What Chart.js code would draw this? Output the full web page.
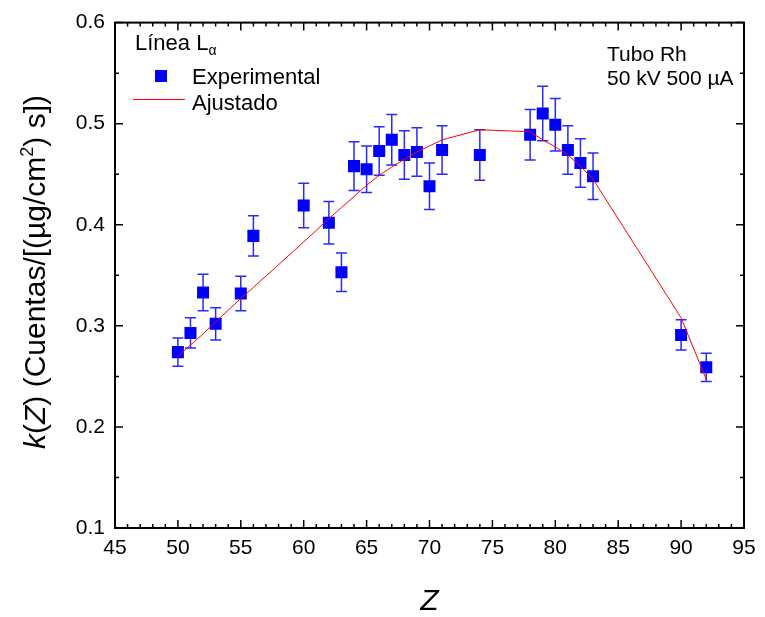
<!DOCTYPE html>
<html>
<head>
<meta charset="utf-8">
<script src="https://cdn.jsdelivr.net/npm/chart.js@4.4.0/dist/chart.umd.min.js"></script>
<style>
  body { margin: 0; background: #fff; }
</style>
</head>
<body>
<canvas id="kz" width="765" height="617"></canvas>
<script>
// numero atomico Z
const zValues = [50, 51, 52, 53, 55, 56, 60, 62, 63, 64, 65, 66, 67, 68, 69, 70, 71, 74, 78, 79, 80, 81, 82, 83, 90, 92];
// k(Z) experimental
const kExp = [0.274, 0.293, 0.333, 0.302, 0.332, 0.389, 0.419, 0.402, 0.353, 0.458, 0.455, 0.473, 0.484, 0.469, 0.472, 0.438, 0.474, 0.469, 0.489, 0.510, 0.499, 0.474, 0.461, 0.448, 0.291, 0.259];
const kErr = [0.014, 0.015, 0.018, 0.016, 0.017, 0.020, 0.022, 0.021, 0.019, 0.024, 0.023, 0.024, 0.025, 0.024, 0.024, 0.023, 0.024, 0.025, 0.025, 0.027, 0.026, 0.024, 0.024, 0.023, 0.015, 0.014];
// curva ajustada
const kFit = [0.270, 0.281, 0.292, 0.304, 0.327, 0.338, 0.383, 0.406, 0.417, 0.428, 0.439, 0.449, 0.457, 0.465, 0.472, 0.478, 0.484, 0.494, 0.492, 0.484, 0.477, 0.469, 0.458, 0.445, 0.308, 0.247];

const FONT = '"Liberation Sans", Arial, sans-serif';
const blue = '#0000ff';

// barras de error, marco, ticks hacia dentro, textos
const decor = {
    id: 'decor',
    beforeDatasetsDraw(chart) {
        const c = chart.ctx, x = chart.scales.x, y = chart.scales.y;
        c.save();
        c.strokeStyle = '#2a2aff';
        c.lineWidth = 1.5;
        zValues.forEach((z, i) => {
            const px = x.getPixelForValue(z);
            const top = y.getPixelForValue(kExp[i] + kErr[i]);
            const bot = y.getPixelForValue(kExp[i] - kErr[i]);
            c.beginPath();
            c.moveTo(px, top); c.lineTo(px, bot);
            c.moveTo(px - 5.5, top); c.lineTo(px + 5.5, top);
            c.moveTo(px - 5.5, bot); c.lineTo(px + 5.5, bot);
            c.stroke();
        });
        c.restore();
    },
    afterDraw(chart) {
        const c = chart.ctx, a = chart.chartArea, x = chart.scales.x, y = chart.scales.y;
        c.save();
        c.strokeStyle = '#000';
        c.lineWidth = 1.5;
        // ticks x (abajo y arriba)
        for (let v = 45; v <= 95; v++) {
            const px = x.getPixelForValue(v);
            const len = v % 5 === 0 ? 8 : 4;
            c.beginPath();
            c.moveTo(px, a.bottom); c.lineTo(px, a.bottom - len);
            c.moveTo(px, a.top); c.lineTo(px, a.top + len);
            c.stroke();
        }
        // ticks y (izq y der)
        for (let k = 0; k <= 10; k++) {
            const v = 0.1 + k * 0.05;
            const py = y.getPixelForValue(v);
            const len = k % 2 === 0 ? 8 : 4;
            c.beginPath();
            c.moveTo(a.left, py); c.lineTo(a.left + len, py);
            c.moveTo(a.right, py); c.lineTo(a.right - len, py);
            c.stroke();
        }
        c.lineWidth = 2;
        c.strokeRect(a.left, a.top, a.right - a.left, a.bottom - a.top);

        c.fillStyle = '#000';
        c.textBaseline = 'alphabetic';
        // titulo x
        c.font = 'italic 30px ' + FONT;
        c.textAlign = 'center';
        c.fillText('Z', (a.left + a.right) / 2, 610);

        // titulo y con cursivas
        const parts = [
            ['k', 'italic 30px ', 0],
            ['(', '30px ', 0],
            ['Z', 'italic 30px ', 0],
            [') (Cuentas/[(\u00b5g/cm', '30px ', 0],
            ['2', '18px ', -12],
            [') s])', '30px ', 0]
        ];
        let total = 0;
        parts.forEach(p => { c.font = p[1] + FONT; total += c.measureText(p[0]).width; });
        c.translate(45, 272);
        c.rotate(-Math.PI / 2);
        c.textAlign = 'left';
        let cx = -total / 2;
        parts.forEach(p => {
            c.font = p[1] + FONT;
            c.fillText(p[0], cx, p[2]);
            cx += c.measureText(p[0]).width;
        });
        c.setTransform(1, 0, 0, 1, 0, 0);

        // leyenda
        c.textAlign = 'left';
        c.font = '22px ' + FONT;
        c.fillText('L\u00ednea L', 135, 50);
        const w = c.measureText('L\u00ednea L').width;
        c.font = '14px ' + FONT;
        c.fillText('\u03b1', 135 + w, 55);
        c.font = '22px ' + FONT;
        c.fillStyle = blue;
        c.fillRect(155, 70, 12, 12);
        c.fillStyle = '#000';
        c.fillText('Experimental', 192, 84);
        c.strokeStyle = '#ff0000';
        c.lineWidth = 1;
        c.beginPath();
        c.moveTo(133, 99.5); c.lineTo(185, 99.5);
        c.stroke();
        c.fillText('Ajustado', 192, 110);

        // condiciones
        c.font = '21px ' + FONT;
        c.fillText('Tubo Rh', 607, 61);
        c.fillText('50 kV 500 \u00b5A', 607, 85);
        c.restore();
    }
};

const ctx = document.getElementById('kz').getContext('2d');
const kzChart = new Chart(ctx, {
    type: 'scatter',
    data: {
        datasets: [{
            label: 'Ajustado',
            data: zValues.map((z, i) => ({ x: z, y: kFit[i] })),
            showLine: true,
            borderColor: '#ff0000',
            borderWidth: 1,
            pointRadius: 0,
            fill: false
        }, {
            label: 'Experimental',
            data: zValues.map((z, i) => ({ x: z, y: kExp[i] })),
            pointStyle: 'rect',
            pointRadius: 8.5,
            backgroundColor: blue,
            borderColor: blue,
            borderWidth: 0
        }]
    },
    options: {
        responsive: false,
        animation: false,
        layout: {
            padding: { top: 19, right: 21, left: 0, bottom: 0 }
        },
        plugins: {
            legend: { display: false },
            tooltip: { enabled: false }
        },
        scales: {
            x: {
                type: 'linear',
                min: 45,
                max: 95,
                afterFit: (s) => { s.height = 89; },
                grid: { display: false, drawTicks: false },
                border: { display: false },
                ticks: {
                    stepSize: 5,
                    padding: 8,
                    color: '#000',
                    font: { family: FONT, size: 21 },
                    maxRotation: 0
                }
            },
            y: {
                min: 0.1,
                max: 0.6,
                afterFit: (s) => { s.width = 115; },
                grid: { display: false, drawTicks: false },
                border: { display: false },
                ticks: {
                    stepSize: 0.1,
                    padding: 10,
                    color: '#000',
                    font: { family: FONT, size: 21 },
                    callback: (v) => v.toFixed(1)
                }
            }
        }
    },
    plugins: [decor]
});
</script>
</body>
</html>
